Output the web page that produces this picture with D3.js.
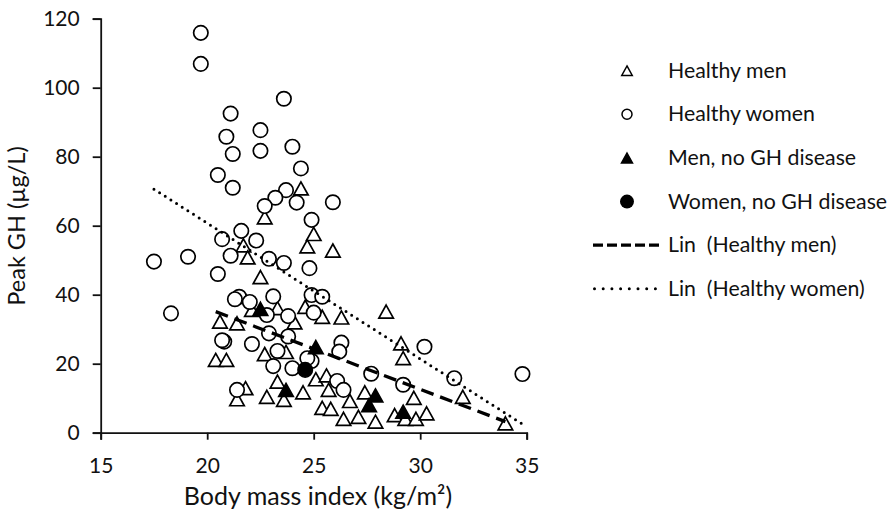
<!DOCTYPE html>
<html>
<head>
<meta charset="utf-8">
<script src="https://cdn.jsdelivr.net/npm/d3@7"></script>
<style>
  html, body { margin: 0; padding: 0; background: #fff; }
  svg { display: block; font-family: Lato, "Open Sans", sans-serif; }
</style>
</head>
<body>
<svg id="chart" width="894" height="518"></svg>
<script>
// Peak GH vs body mass index
const healthyMenBMI = [24.4, 22.7, 25.0, 24.7, 25.9, 21.7, 21.9, 22.5, 20.6, 21.4, 20.4, 20.9, 21.8, 21.4, 22.8, 23.6, 23.3, 22.1, 23.3, 24.1, 24.6, 25.4, 26.3, 28.4, 29.1, 29.2, 32.0, 34.0, 24.5, 25.1, 25.6, 25.7, 25.4, 25.8, 26.4, 26.7, 27.1, 27.4, 27.9, 28.8, 29.7, 29.3, 29.8, 30.3, 22.7, 23.7];
const healthyMenGH  = [70.8, 62.4, 57.6, 54.0, 52.8, 54.3, 50.8, 45.1, 32.2, 31.7, 21.1, 21.1, 12.9, 9.7, 10.4, 9.5, 14.8, 35.6, 36.1, 32.0, 36.5, 33.6, 33.4, 35.1, 25.9, 21.6, 10.4, 2.7, 11.7, 15.5, 16.6, 12.4, 7.2, 6.9, 4.0, 9.2, 4.6, 11.7, 3.2, 5.1, 10.1, 4.0, 4.0, 5.6, 22.8, 23.4];

const healthyWomenBMI = [19.7, 19.7, 23.6, 21.1, 20.9, 22.5, 21.2, 22.5, 24.0, 20.5, 21.2, 24.4, 23.7, 23.2, 22.7, 24.2, 25.9, 24.9, 21.6, 20.7, 22.3, 21.1, 22.9, 23.6, 17.5, 19.1, 20.5, 24.8, 24.9, 25.4, 21.5, 21.3, 22.0, 23.1, 22.8, 23.8, 25.0, 18.3, 20.8, 20.7, 22.1, 22.9, 23.8, 23.3, 23.1, 24.0, 21.4, 26.3, 26.2, 30.2, 24.9, 27.7, 29.2, 31.6, 34.8, 26.1, 26.4, 24.7];
const healthyWomenGH  = [115.9, 106.9, 96.8, 92.5, 85.8, 87.7, 80.8, 81.7, 82.9, 74.7, 71.0, 76.6, 70.3, 68.1, 65.7, 66.7, 66.8, 61.7, 58.5, 56.1, 55.7, 51.3, 50.4, 49.2, 49.6, 51.0, 46.0, 47.7, 39.9, 39.4, 39.4, 38.7, 37.9, 39.5, 34.1, 33.8, 34.8, 34.6, 26.4, 26.8, 25.7, 28.8, 27.9, 23.7, 19.3, 18.7, 12.4, 26.1, 23.5, 24.9, 20.8, 17.1, 13.9, 15.8, 17.0, 15.0, 12.4, 21.6];

const menNoGHBMI = [22.5, 23.7, 25.1, 27.9, 27.6, 29.2];
const menNoGHGH  = [35.9, 12.4, 24.8, 10.8, 8.0, 6.1];

const womenNoGHBMI = [24.6];
const womenNoGHGH  = [18.2];

// Linear trend lines (end points over each series' BMI range)
const trendMenBMI   = [20.4, 34.0];
const trendMenGH    = [35.1, 3.2];
const trendWomenBMI = [17.5, 34.8];
const trendWomenGH  = [70.6, 2.5];

const xTicks = [15, 20, 25, 30, 35];
const yTicks = [0, 20, 40, 60, 80, 100, 120];

const legendLabels = ["Healthy men", "Healthy women", "Men, no GH disease", "Women, no GH disease", "Lin  (Healthy men)", "Lin  (Healthy women)"];

const xTitle = "Body mass index (kg/m\u00B2)";
const yTitle = "Peak GH (\u00B5g/L)";

// ---------------------------------------------------------------
const svg = d3.select("#chart");
const plot = { left: 100.7, right: 526.7, top: 18.7, bottom: 432.7 };

const x = d3.scaleLinear().domain([15, 35]).range([plot.left, plot.right]);
const y = d3.scaleLinear().domain([0, 120]).range([plot.bottom, plot.top]);

// triangle centred on its bounding box
const boxTriangle = {
  draw(ctx, size) {
    const w = Math.sqrt(size * 2 / 0.9), h = w * 0.9;
    ctx.moveTo(0, -h / 2);
    ctx.lineTo(w / 2, h / 2);
    ctx.lineTo(-w / 2, h / 2);
    ctx.closePath();
  }
};
const triPath = (w) => d3.symbol(boxTriangle, w * w * 0.9 / 2)();
const circPath = (r) => d3.symbol(d3.symbolCircle, Math.PI * r * r)();

const zip = (a, b) => a.map((v, i) => [v, b[i]]);

// axes
const yAxis = d3.axisLeft(y).tickValues(yTicks).tickSize(8).tickPadding(13);
const xAxis = d3.axisBottom(x).tickValues(xTicks).tickSize(7).tickPadding(18.5);

const gy = svg.append("g").attr("transform", `translate(${plot.left},0)`).call(yAxis);
const gx = svg.append("g").attr("transform", `translate(0,${plot.bottom})`).call(xAxis);
[gx, gy].forEach(g => {
  g.select(".domain").attr("stroke", "#111").attr("stroke-width", 1.8);
  g.selectAll(".tick line").attr("stroke", "#111").attr("stroke-width", 1.8);
  g.selectAll(".tick text").attr("fill", "#111").style("font-size", "21px").style("font-family", "Lato, sans-serif");
});

// axis titles
svg.append("text")
  .attr("x", 318).attr("y", 505)
  .attr("text-anchor", "middle")
  .style("font-size", "25px").attr("fill", "#111")
  .text(xTitle);

svg.append("text")
  .attr("transform", "translate(25,226) rotate(-90)")
  .attr("text-anchor", "middle")
  .style("font-size", "23.5px").attr("fill", "#111")
  .text(yTitle);

// markers
const marks = svg.append("g");
marks.selectAll(".hm").data(zip(healthyMenBMI, healthyMenGH)).join("path")
  .attr("class", "hm")
  .attr("d", triPath(14.5))
  .attr("transform", d => `translate(${x(d[0])},${y(d[1])})`)
  .attr("fill", "#fff").attr("stroke", "#000").attr("stroke-width", 1.7);

marks.selectAll(".hw").data(zip(healthyWomenBMI, healthyWomenGH)).join("path")
  .attr("class", "hw")
  .attr("d", circPath(7.2))
  .attr("transform", d => `translate(${x(d[0])},${y(d[1])})`)
  .attr("fill", "#fff").attr("stroke", "#000").attr("stroke-width", 1.7);

marks.selectAll(".mn").data(zip(menNoGHBMI, menNoGHGH)).join("path")
  .attr("class", "mn")
  .attr("d", triPath(14.5))
  .attr("transform", d => `translate(${x(d[0])},${y(d[1])})`)
  .attr("fill", "#000").attr("stroke", "#000").attr("stroke-width", 1.7);

marks.selectAll(".wn").data(zip(womenNoGHBMI, womenNoGHGH)).join("path")
  .attr("class", "wn")
  .attr("d", circPath(7.2))
  .attr("transform", d => `translate(${x(d[0])},${y(d[1])})`)
  .attr("fill", "#000").attr("stroke", "#000").attr("stroke-width", 1.7);

// trend lines
const line = d3.line().x(d => x(d[0])).y(d => y(d[1]));
svg.append("path").datum(zip(trendMenBMI, trendMenGH))
  .attr("d", line).attr("fill", "none")
  .attr("stroke", "#000").attr("stroke-width", 3.3)
  .attr("stroke-dasharray", "13 7");
svg.append("path").datum(zip(trendWomenBMI, trendWomenGH))
  .attr("d", line).attr("fill", "none")
  .attr("stroke", "#000").attr("stroke-width", 3)
  .attr("stroke-linecap", "round")
  .attr("stroke-dasharray", "0 6.7");

// legend
const legend = svg.append("g");
const rowY = [70.7, 114.3, 158, 201.6, 245.2, 288.8];
const mx = 627, tx = 668;
legend.append("path").attr("d", triPath(10.5)).attr("transform", `translate(${mx},${rowY[0]})`)
  .attr("fill", "#fff").attr("stroke", "#000").attr("stroke-width", 1.5);
legend.append("path").attr("d", circPath(5)).attr("transform", `translate(${mx},${rowY[1]})`)
  .attr("fill", "#fff").attr("stroke", "#000").attr("stroke-width", 1.5);
legend.append("path").attr("d", triPath(11)).attr("transform", `translate(${mx},${rowY[2]})`)
  .attr("fill", "#000").attr("stroke", "#000").attr("stroke-width", 1.5);
legend.append("path").attr("d", circPath(7)).attr("transform", `translate(${mx},${rowY[3]})`)
  .attr("fill", "#000");
legend.append("line").attr("x1", 593).attr("x2", 663).attr("y1", rowY[4]).attr("y2", rowY[4])
  .attr("stroke", "#000").attr("stroke-width", 3.3).attr("stroke-dasharray", "10 4");
legend.append("line").attr("x1", 594.5).attr("x2", 656).attr("y1", rowY[5]).attr("y2", rowY[5])
  .attr("stroke", "#000").attr("stroke-width", 3).attr("stroke-linecap", "round")
  .attr("stroke-dasharray", "0 8.7");

legend.selectAll("text").data(legendLabels).join("text")
  .attr("x", tx).attr("y", (d, i) => rowY[i] + 7)
  .attr("xml:space", "preserve")
  .style("white-space", "pre")
  .style("font-size", "21.3px").attr("fill", "#111")
  .text(d => d);
</script>
</body>
</html>
